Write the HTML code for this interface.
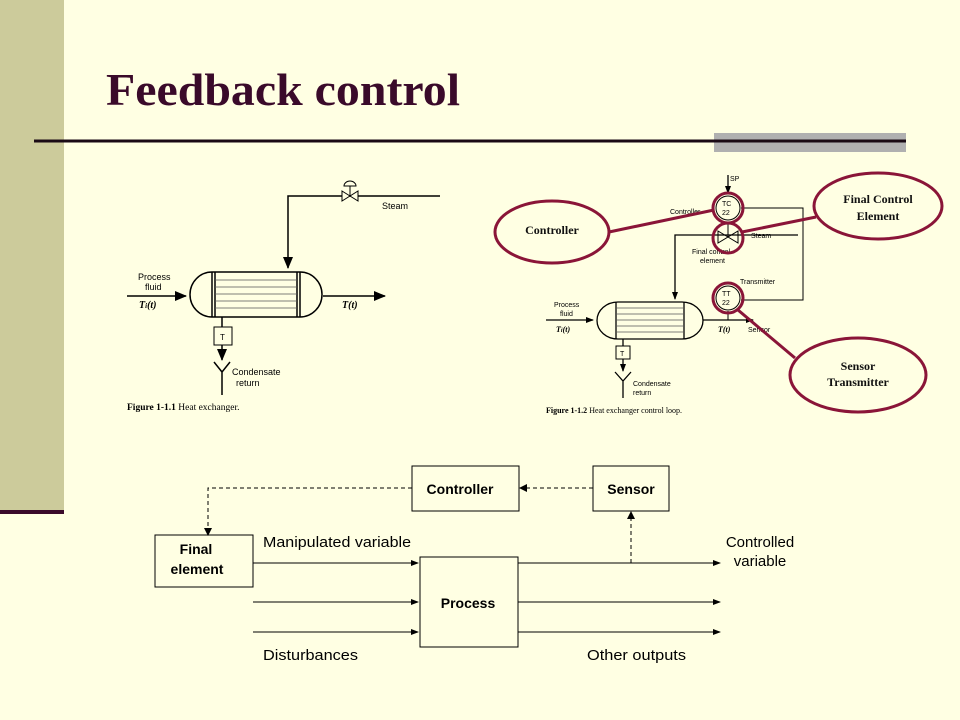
<!DOCTYPE html>
<html><head><meta charset="utf-8"><style>
html,body{margin:0;padding:0;width:960px;height:720px;overflow:hidden;background:#ffffe3;}
svg{display:block}
.s{font-family:"Liberation Sans",sans-serif}
.r{font-family:"Liberation Serif",serif}
</style></head><body>
<svg width="960" height="720" viewBox="0 0 960 720">
<defs>
<marker id="a" markerWidth="8" markerHeight="8" refX="7" refY="4" orient="auto" markerUnits="userSpaceOnUse"><path d="M0,1 L8,4 L0,7 z" fill="#000"/></marker>
<marker id="b" markerWidth="12" markerHeight="10" refX="11" refY="5" orient="auto" markerUnits="userSpaceOnUse"><path d="M0,0 L12,5 L0,10 z" fill="#000"/></marker>
</defs>
<rect x="0" y="0" width="64" height="512" fill="#cccb9b"/>
<rect x="0" y="510" width="64" height="4" fill="#3a0a2a"/>
<text x="106" y="105" class="r" font-size="46" font-weight="bold" fill="#3a0a2a" textLength="354" lengthAdjust="spacingAndGlyphs">Feedback control</text>
<rect x="714" y="133" width="192" height="19" fill="#b0b0b0"/>
<rect x="34" y="139.5" width="872" height="3" fill="#1a0a14"/>

<!-- Left heat exchanger -->
<g stroke="#000" fill="none" stroke-width="1.5">
<path d="M212,272 H300 A22,22.5 0 0 1 300,317 H212 A22,22.5 0 0 1 212,272 Z" fill="#ffffe3"/>
<line x1="212" y1="272" x2="212" y2="317"/><line x1="215" y1="272" x2="215" y2="317"/>
<line x1="297" y1="272" x2="297" y2="317"/><line x1="300" y1="272" x2="300" y2="317"/>
<g stroke-width="0.8" stroke="#555"><line x1="215" y1="280" x2="297" y2="280"/><line x1="215" y1="287" x2="297" y2="287"/><line x1="215" y1="294" x2="297" y2="294"/><line x1="215" y1="301" x2="297" y2="301"/><line x1="215" y1="308" x2="297" y2="308"/></g>
<path d="M440,196 H288 V268" marker-end="url(#b)"/>
<line x1="127" y1="296" x2="186" y2="296" marker-end="url(#b)"/>
<line x1="323" y1="296" x2="385" y2="296" marker-end="url(#b)"/>
<path d="M342,191 L358,201 L358,191 L342,201 Z" fill="#ffffe3" stroke-width="1"/>
<line x1="350" y1="196" x2="350" y2="186" stroke-width="1"/><path d="M344,186 A6,5 0 0 1 356,186 Z" stroke-width="1"/>
<line x1="222" y1="317" x2="222" y2="327"/>
<rect x="214" y="327" width="18" height="18" stroke-width="1"/>
<line x1="222" y1="345" x2="222" y2="360" marker-end="url(#b)"/>
<path d="M214,362 L222,372 L230,362 M222,372 V395"/>
</g>
<g class="s" font-size="9" fill="#000">
<text x="382" y="209">Steam</text>
<text x="138" y="280">Process</text><text x="145" y="290">fluid</text>
<text x="232" y="375">Condensate</text><text x="236" y="386">return</text>
<text x="220" y="340" font-size="8">T</text>
</g>
<text x="139" y="308" class="r" font-size="10" font-weight="bold" font-style="italic">T<tspan font-size="7">i</tspan>(t)</text>
<text x="342" y="308" class="r" font-size="10" font-weight="bold" font-style="italic">T(t)</text>
<text x="127" y="410" class="r" font-size="9.5"><tspan font-weight="bold">Figure 1-1.1</tspan>  Heat exchanger.</text>

<!-- Right control loop -->
<g stroke="#000" fill="none" stroke-width="1.3">
<path d="M618,302 H682 A21,18.5 0 0 1 682,339 H618 A21,18.5 0 0 1 618,302 Z" fill="#ffffe3"/>
<line x1="616" y1="302" x2="616" y2="339"/><line x1="684" y1="302" x2="684" y2="339"/>
<g stroke-width="0.7" stroke="#555"><line x1="616" y1="308" x2="684" y2="308"/><line x1="616" y1="314" x2="684" y2="314"/><line x1="616" y1="320" x2="684" y2="320"/><line x1="616" y1="326" x2="684" y2="326"/><line x1="616" y1="332" x2="684" y2="332"/></g>
<line x1="546" y1="320" x2="593" y2="320" marker-end="url(#a)"/>
<line x1="703" y1="320" x2="753" y2="320" marker-end="url(#a)"/>
<path d="M798,235 H675 V299" marker-end="url(#a)"/>
<path d="M728,175 V193" marker-end="url(#a)"/>
<path d="M741,208 H803 V300 H741" stroke-width="1"/>
<line x1="728" y1="311" x2="728" y2="320" stroke-width="1"/>
<circle cx="728" cy="208" r="12" stroke-width="1" fill="#ffffe3"/>
<circle cx="728" cy="298" r="12" stroke-width="1" fill="#ffffe3"/>
<path d="M718,231 L738,243 L738,231 L718,243 Z" stroke-width="1"/>
<line x1="728" y1="237" x2="728" y2="224" stroke-width="1"/>
<line x1="623" y1="339" x2="623" y2="346"/>
<rect x="616" y="346" width="14" height="13" stroke-width="1"/>
<line x1="623" y1="359" x2="623" y2="371" marker-end="url(#a)"/>
<path d="M615,372 L623,381 L631,372 M623,381 V398"/>
</g>
<g class="s" font-size="7" fill="#000">
<text x="730" y="181">SP</text>
<text x="722" y="206">TC</text><text x="722" y="215">22</text>
<text x="722" y="296">TT</text><text x="722" y="305">22</text>
<text x="670" y="214">Controller</text>
<text x="751" y="238">Steam</text>
<text x="692" y="254">Final control</text><text x="700" y="263">element</text>
<text x="740" y="284">Transmitter</text>
<text x="748" y="332">Sensor</text>
<text x="554" y="307">Process</text><text x="560" y="316">fluid</text>
<text x="633" y="386">Condensate</text><text x="633" y="395">return</text>
<text x="620" y="356" font-size="7">T</text>
</g>
<text x="556" y="332" class="r" font-size="8" font-weight="bold" font-style="italic">T<tspan font-size="6">i</tspan>(t)</text>
<text x="718" y="332" class="r" font-size="8" font-weight="bold" font-style="italic">T(t)</text>
<text x="546" y="413" class="r" font-size="8"><tspan font-weight="bold">Figure 1-1.2</tspan>  Heat exchanger control loop.</text>

<g stroke="#8a1538" stroke-width="3" fill="none">
<ellipse cx="552" cy="232" rx="57" ry="31"/>
<ellipse cx="878" cy="206" rx="64" ry="33"/>
<ellipse cx="858" cy="375" rx="68" ry="37"/>
<circle cx="728" cy="208" r="15"/>
<circle cx="728" cy="238" r="15"/>
<circle cx="728" cy="298" r="15"/>
<line x1="609" y1="232" x2="714" y2="210"/>
<line x1="816" y1="217" x2="742" y2="232"/>
<line x1="738" y1="310" x2="795" y2="358"/>
</g>
<g class="r" font-size="12" font-weight="bold" fill="#111" text-anchor="middle">
<text x="552" y="234">Controller</text>
<text x="878" y="203">Final Control</text><text x="878" y="220">Element</text>
<text x="858" y="370">Sensor</text><text x="858" y="386">Transmitter</text>
</g>

<!-- Block diagram -->
<g stroke="#000" fill="none" stroke-width="1">
<rect x="412" y="466" width="107" height="45"/>
<rect x="593" y="466" width="76" height="45"/>
<rect x="155" y="535" width="98" height="52"/>
<rect x="420" y="557" width="98" height="90"/>
<g stroke-dasharray="4,3">
<path d="M412,488 H208 V530" />
<line x1="593" y1="488" x2="525" y2="488"/>
<line x1="631" y1="563" x2="631" y2="517"/>
</g>
<line x1="253" y1="563" x2="418" y2="563" marker-end="url(#a)"/>
<line x1="253" y1="602" x2="418" y2="602" marker-end="url(#a)"/>
<line x1="253" y1="632" x2="418" y2="632" marker-end="url(#a)"/>
<line x1="518" y1="563" x2="720" y2="563" marker-end="url(#a)"/>
<line x1="518" y1="602" x2="720" y2="602" marker-end="url(#a)"/>
<line x1="518" y1="632" x2="720" y2="632" marker-end="url(#a)"/>
</g>
<path d="M204,528 L208,536 L212,528 Z M527,484 L519,488 L527,492 Z M627,519 L631,511 L635,519 Z" fill="#000"/>
<g class="s" font-size="14" fill="#000">
<text x="460" y="494" text-anchor="middle" font-weight="bold">Controller</text>
<text x="631" y="494" text-anchor="middle" font-weight="bold">Sensor</text>
<text x="196" y="554" text-anchor="middle" font-weight="bold">Final</text>
<text x="197" y="574" text-anchor="middle" font-weight="bold">element</text>
<text x="468" y="608" text-anchor="middle" font-weight="bold">Process</text>
<text x="263" y="547" font-size="15" textLength="148" lengthAdjust="spacingAndGlyphs">Manipulated variable</text>
<text x="263" y="660" font-size="15" textLength="95" lengthAdjust="spacingAndGlyphs">Disturbances</text>
<text x="587" y="660" font-size="15" textLength="99" lengthAdjust="spacingAndGlyphs">Other outputs</text>
<text x="760" y="547" font-size="15" text-anchor="middle">Controlled</text>
<text x="760" y="566" font-size="15" text-anchor="middle">variable</text>
</g>
</svg>
</body></html>
